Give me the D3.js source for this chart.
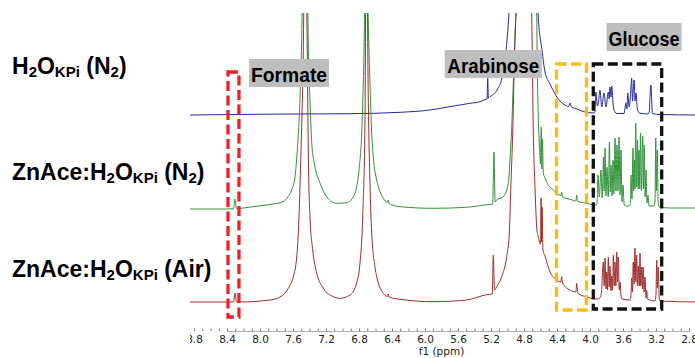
<!DOCTYPE html>
<html>
<head>
<meta charset="utf-8">
<script src="https://cdn.jsdelivr.net/npm/d3@7"></script>
<style>
  body { margin: 0; background: #fff; }
  svg { display: block; }
</style>
</head>
<body>
<svg id="chart" width="695" height="358"></svg>
<script>
// ---- data -------------------------------------------------------------
// f1 axis labels (ppm)
const tickLabels = [8.8, 8.4, 8.0, 7.6, 7.2, 6.8, 6.4, 6.0, 5.6, 5.2, 4.8, 4.4, 4.0, 3.6, 3.2, 2.8];

// sample names, drawn as [text, subscript?] runs
const sampleNames = [
  [["H", 0], ["2", 1], ["O", 0], ["KPi", 1], [" (N", 0], ["2", 1], [")", 0]],
  [["ZnAce:H", 0], ["2", 1], ["O", 0], ["KPi", 1], [" (N", 0], ["2", 1], [")", 0]],
  [["ZnAce:H", 0], ["2", 1], ["O", 0], ["KPi", 1], [" (Air)", 0]]
];

// vertical stacking offsets (intensity units)
const offsets = [187, 93, 0];
const traceColors = ["#28289c", "#32923a", "#9e2c2c"];

// 1H spectra: [ppm, intensity]
const kpiN2 = [
  [8.85, 0], [8.30, 0.5], [7.60, 1], [6.91, 1.3], [6.30, 2.7], [5.94, 5], [5.70, 8.3],
  [5.455, 11.7], [5.333, 13.3], [5.261, 15.7], [5.248, 16], [5.240, 36.7], [5.232, 17],
  [5.212, 18.3], [5.127, 25], [5.067, 37], [5.030, 55], [5.006, 75], [4.982, 102],
  [4.930, 220], [4.860, 330], [4.788, 380], [4.710, 330], [4.660, 220],
  [4.630, 102], [4.582, 65], [4.545, 43], [4.485, 31], [4.424, 21], [4.364, 14],
  [4.303, 10], [4.261, 8.5], [4.242, 12], [4.224, 8], [4.158, 6], [4.085, 3.5],
  [4.000, 2.3], [3.952, 2],
  [3.940, 3], [3.927, 23], [3.911, 9], [3.898, 12], [3.879, 25], [3.858, 8],
  [3.830, 22], [3.806, 8], [3.778, 23], [3.767, 16], [3.758, 28], [3.745, 18],
  [3.737, 29], [3.717, 8], [3.697, 3], [3.673, 1.5], [3.588, 1.5], [3.564, 12],
  [3.552, 6], [3.543, 22], [3.524, 8], [3.507, 23], [3.495, 37], [3.485, 14],
  [3.476, 25], [3.464, 35], [3.455, 14], [3.442, 22], [3.427, 7], [3.402, 2],
  [3.297, 1], [3.280, 4], [3.273, 18], [3.261, 30], [3.244, 1.5], [3.152, 0.5],
  [2.700, 0]
];

const znAceN2 = [
  [8.85, 0], [8.40, 0], [8.321, 0.3], [8.303, 10], [8.285, 0.5], [8.085, 2.3],
  [7.842, 5], [7.721, 7.3], [7.661, 12.3], [7.616, 19], [7.576, 32], [7.548, 59],
  [7.524, 92], [7.507, 132], [7.495, 170], [7.479, 260], [7.455, 330], [7.430, 260],
  [7.415, 164], [7.394, 109], [7.373, 66], [7.333, 42], [7.273, 26], [7.192, 12.3],
  [7.070, 5.7], [6.949, 6.3], [6.869, 12.3], [6.828, 22.3], [6.796, 42], [6.767, 76],
  [6.748, 126], [6.739, 159], [6.715, 330], [6.691, 200], [6.667, 126], [6.646, 76],
  [6.627, 52], [6.585, 29], [6.545, 17.3], [6.505, 10.7], [6.455, 6.5], [6.445, 9],
  [6.435, 5.5], [6.303, 2.3], [5.903, 0.7], [5.495, 1.7], [5.252, 4.3], [5.179, 5],
  [5.164, 57], [5.150, 7], [5.131, 9], [5.051, 12.3], [4.990, 25.7], [4.970, 49],
  [4.949, 82], [4.930, 126], [4.909, 176], [4.897, 196], [4.873, 280], [4.788, 400],
  [4.691, 300], [4.646, 196], [4.639, 142], [4.627, 92], [4.612, 62], [4.600, 45],
  [4.591, 82], [4.584, 40], [4.577, 70], [4.566, 36], [4.545, 31], [4.505, 24],
  [4.444, 19], [4.424, 17.3], [4.364, 13.5], [4.354, 13], [4.343, 17], [4.332, 12],
  [4.292, 10.7], [4.242, 9.7], [4.172, 8], [4.161, 14], [4.150, 7.5], [4.081, 6.3],
  [4.000, 5], [3.952, 4],
  [3.915, 5], [3.903, 34], [3.887, 12], [3.867, 39], [3.852, 11], [3.836, 52],
  [3.828, 18], [3.818, 61], [3.806, 13], [3.794, 42], [3.779, 12], [3.764, 67],
  [3.755, 17], [3.745, 44], [3.733, 13], [3.721, 49], [3.709, 15], [3.697, 71],
  [3.685, 18], [3.673, 64], [3.661, 18], [3.648, 72], [3.636, 14], [3.624, 59],
  [3.612, 7], [3.600, 24], [3.585, 4], [3.564, 3], [3.527, 3], [3.509, 5],
  [3.503, 34], [3.491, 10], [3.479, 61], [3.470, 18], [3.461, 49], [3.455, 20],
  [3.446, 86], [3.435, 22], [3.424, 69], [3.416, 20], [3.406, 59], [3.397, 20],
  [3.388, 76], [3.376, 18], [3.361, 73], [3.352, 20], [3.342, 64], [3.331, 12],
  [3.321, 39], [3.309, 6], [3.297, 14], [3.285, 3], [3.224, 3], [3.212, 8],
  [3.203, 71], [3.195, 18], [3.185, 59], [3.173, 5], [3.157, 2], [3.030, 1],
  [2.700, 1]
];

const znAceAir = [
  [8.85, 0], [8.40, 0], [8.321, 0], [8.303, 9], [8.285, 0], [8.242, 0], [7.879, 2],
  [7.737, 6], [7.657, 13.7], [7.596, 25.3], [7.555, 45], [7.527, 85], [7.503, 152],
  [7.482, 219], [7.475, 252], [7.455, 400], [7.427, 252], [7.415, 152], [7.394, 85],
  [7.361, 52], [7.313, 29], [7.233, 14], [7.112, 5.3], [7.030, 3.7], [6.909, 7],
  [6.828, 19], [6.788, 39], [6.755, 85], [6.727, 185], [6.712, 400], [6.687, 200],
  [6.667, 119], [6.646, 69], [6.606, 35], [6.566, 19], [6.505, 8.7], [6.455, 5.5],
  [6.445, 8], [6.435, 5], [6.303, 2.7], [5.903, 0.3], [5.495, 2], [5.252, 7.3],
  [5.185, 8], [5.172, 47], [5.158, 12], [5.131, 15.3], [5.070, 25.3], [5.010, 45.3],
  [4.978, 68.7], [4.958, 118.7], [4.937, 168.7], [4.918, 235], [4.897, 289],
  [4.873, 330], [4.788, 420], [4.727, 330], [4.707, 289], [4.687, 169], [4.667, 115],
  [4.646, 75], [4.627, 65], [4.600, 58], [4.593, 104], [4.587, 60], [4.580, 95],
  [4.570, 52], [4.545, 46], [4.485, 30], [4.400, 22], [4.354, 20], [4.343, 25.3],
  [4.332, 19], [4.242, 12], [4.172, 10], [4.161, 18.7], [4.150, 9], [4.040, 5],
  [4.000, 4], [3.952, 3],
  [3.915, 3], [3.879, 4], [3.861, 10], [3.839, 40], [3.828, 16], [3.818, 44],
  [3.806, 13], [3.797, 30], [3.788, 12], [3.778, 45], [3.767, 15], [3.758, 36],
  [3.745, 11], [3.737, 26], [3.727, 12], [3.717, 47], [3.706, 16], [3.697, 40],
  [3.687, 16], [3.676, 50], [3.667, 20], [3.657, 45], [3.646, 12], [3.636, 20],
  [3.624, 6], [3.612, 3], [3.515, 2], [3.505, 5], [3.494, 24], [3.485, 10],
  [3.476, 40], [3.464, 18], [3.455, 54], [3.444, 20], [3.434, 47], [3.424, 16],
  [3.414, 36], [3.403, 16], [3.394, 49], [3.384, 16], [3.373, 35], [3.364, 13],
  [3.355, 35], [3.344, 10], [3.333, 25], [3.321, 4], [3.313, 12], [3.303, 3],
  [3.212, 1], [3.200, 8], [3.191, 42], [3.182, 14], [3.172, 35], [3.161, 4],
  [3.152, 1], [2.700, 0]
];

const spectra = [kpiN2, znAceN2, znAceAir];

// marked regions: [ppm from, ppm to], dashed outline colour
const regions = [
  { from: 8.388, to: 8.255, color: "#f22020" },
  { from: 4.406, to: 4.042, color: "#fbbb14" },
  { from: 3.960, to: 3.131, color: "#111111" }
];

// compound labels and their ppm positions
const compounds = ["Formate", "Arabinose", "Glucose"];
const compoundPpm = [7.648, 5.172, 3.345];

// ---- drawing ----------------------------------------------------------
const svg = d3.select("#chart");
const W = 695, H = 358;
const plotLeft = 190, plotTop = 13;

const x = d3.scaleLinear().domain([8.4, 2.8]).range([227, 689]);
const y = d3.scaleLinear().domain([0, 290]).range([302, 12]);

const defs = svg.append("defs");
defs.append("clipPath").attr("id", "plotClip")
  .append("rect").attr("x", plotLeft).attr("y", plotTop)
  .attr("width", W - plotLeft).attr("height", H - plotTop);
defs.append("clipPath").attr("id", "axisClip")
  .append("rect").attr("x", plotLeft).attr("y", 300)
  .attr("width", W - plotLeft).attr("height", 58);

// spectra
const line = d3.line().curve(d3.curveMonotoneX);
const traces = svg.append("g").attr("clip-path", "url(#plotClip)");
spectra.forEach((s, i) => {
  traces.append("path")
    .attr("d", line(s.map(d => [x(d[0]), y(d[1] + offsets[i])])))
    .attr("fill", "none")
    .attr("stroke", traceColors[i])
    .attr("stroke-width", 1)
    .attr("stroke-linejoin", "round");
});

// dashed region outlines
const boxTop = [72, 64, 64], boxBottom = [317, 310, 309];
regions.forEach((r, i) => {
  svg.append("rect")
    .attr("x", x(r.from)).attr("y", boxTop[i])
    .attr("width", x(r.to) - x(r.from)).attr("height", boxBottom[i] - boxTop[i])
    .attr("fill", "none")
    .attr("stroke", r.color)
    .attr("stroke-width", 3.3)
    .attr("stroke-dasharray", "10,4.5");
});

// compound labels on grey plates
const plate = [
  { w: 80, top: 59, h: 28, textW: 76 },
  { w: 97, top: 50, h: 28, textW: 92 },
  { w: 75, top: 23, h: 28, textW: 71 }
];
compounds.forEach((c, i) => {
  const cx = x(compoundPpm[i]), p = plate[i];
  svg.append("rect")
    .attr("x", cx - p.w / 2).attr("y", p.top)
    .attr("width", p.w).attr("height", p.h)
    .attr("fill", "#bebebe");
  svg.append("text")
    .attr("x", cx - p.textW / 2).attr("y", p.top + 22.5)
    .attr("font-family", "'Liberation Sans', Arial, sans-serif")
    .attr("font-weight", "bold")
    .attr("font-size", 21)
    .attr("textLength", p.textW)
    .attr("lengthAdjust", "spacingAndGlyphs")
    .attr("fill", "#000")
    .text(c);
});

// sample names
const nameBaselines = [74, 180, 277];
sampleNames.forEach((runs, i) => {
  const t = svg.append("text")
    .attr("x", 12).attr("y", nameBaselines[i])
    .attr("font-family", "'Liberation Sans', Arial, sans-serif")
    .attr("font-weight", "bold")
    .attr("font-size", 23)
    .attr("fill", "#000");
  let prevSub = false;
  runs.forEach(([txt, sub]) => {
    const ts = t.append("tspan").text(txt);
    if (sub) ts.attr("font-size", 15).attr("dy", prevSub ? 0 : 3);
    else if (prevSub) ts.attr("dy", -3);
    prevSub = !!sub;
  });
});

// f1 axis
const minorTicks = d3.range(88, 26, -1).map(v => v / 10);
const axisG = svg.append("g").attr("clip-path", "url(#axisClip)");
axisG.append("g")
  .attr("transform", "translate(0,331)")
  .call(d3.axisTop(x).tickValues(minorTicks).tickSize(2.5).tickFormat(""))
  .call(g => g.select(".domain").attr("stroke", "#9a9a9a").attr("stroke-width", 0.8))
  .call(g => g.selectAll(".tick line").attr("stroke", "#777"));
axisG.append("g")
  .attr("transform", "translate(0,331)")
  .call(d3.axisBottom(x).tickValues(tickLabels).tickSize(0).tickPadding(5)
    .tickFormat(d3.format(".1f")))
  .call(g => g.select(".domain").remove())
  .call(g => g.selectAll("text")
    .attr("font-family", "'DejaVu Sans', Verdana, sans-serif")
    .attr("font-size", 10.5)
    .attr("fill", "#222"));

svg.append("text")
  .attr("x", x(5.8)).attr("y", 355)
  .attr("text-anchor", "middle")
  .attr("font-family", "'DejaVu Sans', Verdana, sans-serif")
  .attr("font-size", 10.5)
  .attr("fill", "#222")
  .text("f1 (ppm)");
</script>
</body>
</html>
